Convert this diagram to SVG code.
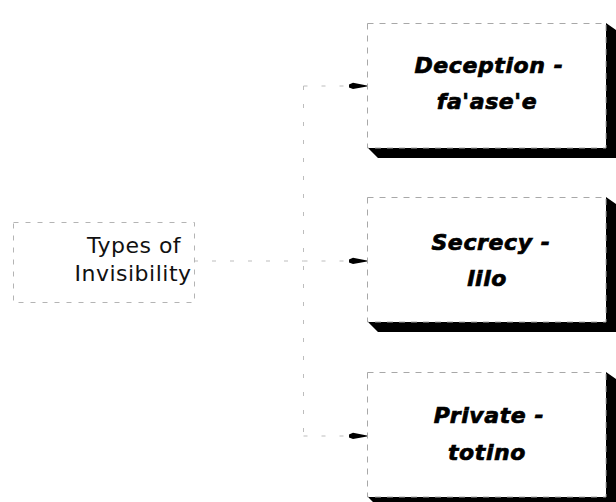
<svg xmlns="http://www.w3.org/2000/svg" width="616" height="502" viewBox="0 0 616 502">
  <defs>
    <style>
      .frame { fill: #ffffff; stroke: #a8a8a8; stroke-width: 1; stroke-dasharray: 6 6; }
      .root-frame { fill: none; stroke: #b4b4b4; stroke-width: 1; stroke-dasharray: 5 7; }
      .shade { fill: #000000; }
      .label { font-family: "DejaVu Sans", "Liberation Sans", sans-serif; font-weight: bold; font-style: italic; font-size: 22px; letter-spacing: 0.6px; fill: #000000; stroke: #000000; stroke-width: 0.7; text-anchor: middle; }
      .root-label { font-family: "DejaVu Sans", "Liberation Sans", sans-serif; font-size: 22px; letter-spacing: 0.5px; fill: #111111; text-anchor: middle; }
      .link { fill: none; stroke: #bdbdbd; stroke-width: 1; stroke-dasharray: 4 14; }
      .head { fill: #000000; }
    </style>
    <marker id="arrow" markerWidth="18" markerHeight="9" refX="18" refY="4.5" orient="auto" markerUnits="userSpaceOnUse">
      <path class="head" d="M0,3 L4,1.2 L18,4 L18,5 L4,7.6 L0,6 Z"/>
    </marker>
  </defs>

  <!-- connectors: trunk, feeder from the root and three branches -->
  <g id="connectors">
    <line class="link" x1="194" y1="261" x2="303.5" y2="261"/>
    <line class="link" x1="303.5" y1="86" x2="303.5" y2="436"/>
    <line class="link" x1="303.5" y1="86" x2="367" y2="86" marker-end="url(#arrow)"/>
    <line class="link" x1="303.5" y1="261" x2="367" y2="261" marker-end="url(#arrow)"/>
    <line class="link" x1="303.5" y1="436" x2="367" y2="436" marker-end="url(#arrow)"/>
  </g>

  <!-- root node -->
  <g id="root">
    <rect class="root-frame" x="13.5" y="222.5" width="181" height="80"/>
    <text class="root-label" x="134" y="253">Types of</text>
    <text class="root-label" x="133" y="281">Invisibility</text>
  </g>

  <!-- child nodes: extruded boxes with a solid side and bottom -->
  <g id="deception">
    <polygon class="shade" points="606,23 616,30 616,158 378,158 368,148 606,148"/>
    <rect class="frame" x="367.5" y="23.5" width="238.5" height="124.5"/>
    <text class="label" x="489" y="73">Deception -</text>
    <text class="label" x="487" y="109">fa'ase'e</text>
  </g>

  <g id="secrecy">
    <polygon class="shade" points="606,197 616,204 616,332 378,332 368,322 606,322"/>
    <rect class="frame" x="367.5" y="197.5" width="238.5" height="124.5"/>
    <text class="label" x="491" y="250">Secrecy -</text>
    <text class="label" x="487" y="286">lilo</text>
  </g>

  <g id="private">
    <polygon class="shade" points="606,372 616,379 616,507 378,507 368,497 606,497"/>
    <rect class="frame" x="367.5" y="372.5" width="238.5" height="124.5"/>
    <text class="label" x="489" y="423">Private -</text>
    <text class="label" x="487" y="460">totino</text>
  </g>
</svg>
